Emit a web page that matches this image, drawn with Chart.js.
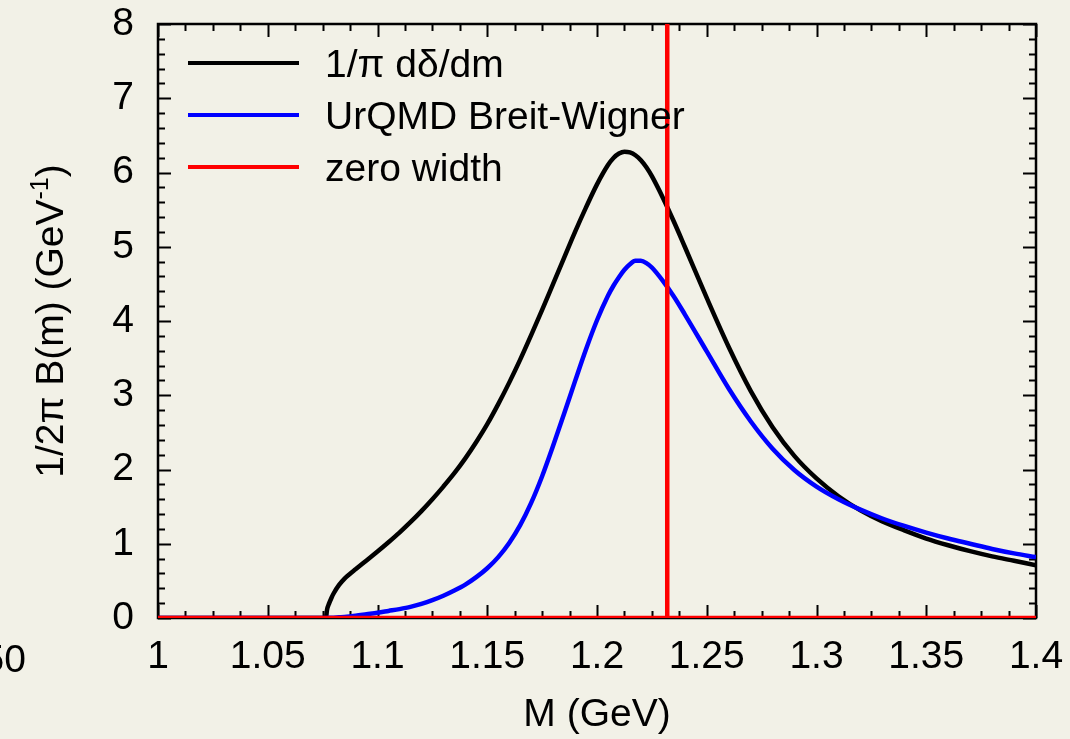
<!DOCTYPE html>
<html>
<head>
<meta charset="utf-8">
<script src="https://cdn.jsdelivr.net/npm/chart.js@4.4.1/dist/chart.umd.min.js"></script>
<style>
  html, body { margin: 0; padding: 0; background: #f2f1e7; }
  canvas { display: block; }
</style>
</head>
<body>
<canvas id="c" width="1070" height="739"></canvas>
<script>
// Delta(1232) spectral function: mass grid (GeV) and the two line shapes
const massGrid = [1.000, 1.0765, 1.077, 1.078, 1.079, 1.080, 1.0825, 1.085, 1.0875, 1.090,
                  1.095, 1.100, 1.105, 1.110, 1.115, 1.120, 1.125, 1.130, 1.135, 1.140,
                  1.145, 1.150, 1.155, 1.160, 1.165, 1.170, 1.175, 1.180, 1.185, 1.190,
                  1.195, 1.200, 1.205, 1.2075, 1.210, 1.2125, 1.215, 1.2175, 1.220, 1.2225,
                  1.225, 1.230, 1.235, 1.240, 1.250, 1.260, 1.270, 1.280, 1.290, 1.300,
                  1.310, 1.320, 1.330, 1.340, 1.350, 1.360, 1.370, 1.380, 1.390, 1.400];
const phaseShiftDerivative = [0, 0, 0.11, 0.20, 0.27, 0.33, 0.445, 0.53, 0.595, 0.655,
                  0.775, 0.895, 1.02, 1.15, 1.29, 1.44, 1.60, 1.77, 1.95, 2.15,
                  2.37, 2.61, 2.88, 3.17, 3.48, 3.81, 4.15, 4.50, 4.85, 5.20,
                  5.53, 5.84, 6.10, 6.195, 6.255, 6.28, 6.27, 6.232, 6.165, 6.07,
                  5.95, 5.66, 5.34, 5.00, 4.31, 3.65, 3.06, 2.57, 2.18, 1.88,
                  1.64, 1.45, 1.30, 1.18, 1.07, 0.98, 0.90, 0.83, 0.77, 0.71];
const breitWigner = [0, 0, 0.001, 0.002, 0.003, 0.005, 0.01, 0.015, 0.022, 0.03,
                  0.05, 0.07, 0.095, 0.12, 0.15, 0.19, 0.24, 0.30, 0.37, 0.45,
                  0.55, 0.67, 0.82, 1.01, 1.25, 1.55, 1.91, 2.32, 2.75, 3.19,
                  3.62, 4.01, 4.34, 4.475, 4.59, 4.69, 4.765, 4.81, 4.81, 4.78,
                  4.72, 4.54, 4.33, 4.09, 3.59, 3.09, 2.65, 2.28, 1.99, 1.77,
                  1.60, 1.46, 1.34, 1.24, 1.15, 1.07, 1.00, 0.93, 0.87, 0.82];
// zero-width limit: a spike at the pole mass
const zeroWidthMass  = [1.000, 1.232, 1.232, 1.232, 1.400];
const zeroWidthValue = [0, 0, 8, 0, 0];

const seriesLabels = ['1/\u03c0 d\u03b4/dm', 'UrQMD Breit-Wigner', 'zero width'];
const seriesColors = ['#000000', '#0000ff', '#ff0000'];

const xTicks = [1, 1.05, 1.1, 1.15, 1.2, 1.25, 1.3, 1.35, 1.4];
const xTickLabels = ['1', '1.05', '1.1', '1.15', '1.2', '1.25', '1.3', '1.35', '1.4'];
const yTicks = [0, 1, 2, 3, 4, 5, 6, 7, 8];
const yTickLabels = ['0', '1', '2', '3', '4', '5', '6', '7', '8'];
const xMinorStep = 0.0125;
const yMinorStep = 0.2;

const FONT = '"Liberation Sans", Arial, Helvetica, sans-serif';
const FS = 39;
const BG = '#f2f1e7';

const toPoints = (xs, ys) => xs.map((x, i) => ({ x, y: ys[i] }));

// background fill
const backgroundPlugin = {
  id: 'bg',
  beforeDraw(chart) {
    const { ctx, width, height } = chart;
    ctx.save();
    ctx.fillStyle = BG;
    ctx.fillRect(0, 0, width, height);
    ctx.restore();
  }
};

// plot frame with inward major/minor ticks on all four sides
const framePlugin = {
  id: 'frame',
  beforeDatasetsDraw(chart) {
    const { ctx, chartArea: a, scales: { x, y } } = chart;
    ctx.save();
    ctx.strokeStyle = '#000';
    ctx.lineWidth = 2;
    ctx.lineCap = 'butt';
    const majorLen = 13, minorLen = 7;
    ctx.beginPath();
    const nx = Math.round((x.max - x.min) / xMinorStep);
    for (let i = 0; i <= nx; i++) {
      const v = x.min + i * xMinorStep;
      const px = Math.round(x.getPixelForValue(v)) + 0.5;
      const len = (i % 4 === 0) ? majorLen : minorLen;
      ctx.moveTo(px, a.bottom); ctx.lineTo(px, a.bottom - len);
      ctx.moveTo(px, a.top); ctx.lineTo(px, a.top + len);
    }
    const ny = Math.round((y.max - y.min) / yMinorStep);
    for (let i = 0; i <= ny; i++) {
      const v = y.min + i * yMinorStep;
      const py = Math.round(y.getPixelForValue(v)) + 0.5;
      const len = (i % 5 === 0) ? majorLen : minorLen;
      ctx.moveTo(a.left, py); ctx.lineTo(a.left + len, py);
      ctx.moveTo(a.right, py); ctx.lineTo(a.right - len, py);
    }
    ctx.stroke();
    ctx.lineWidth = 2.5;
    ctx.strokeRect(a.left, a.top, a.right - a.left, a.bottom - a.top);
    ctx.restore();
  }
};

// legend inside the plot, top-left
const legendPlugin = {
  id: 'innerLegend',
  afterDatasetsDraw(chart) {
    const { ctx, chartArea: a } = chart;
    ctx.save();
    ctx.font = FS + 'px ' + FONT;
    ctx.textAlign = 'left';
    ctx.textBaseline = 'alphabetic';
    chart.data.datasets.forEach((ds, i) => {
      const yy = a.top + 39 + i * 52;
      ctx.strokeStyle = ds.borderColor;
      ctx.lineWidth = 4;
      ctx.beginPath();
      ctx.moveTo(a.left + 30, yy);
      ctx.lineTo(a.left + 141, yy);
      ctx.stroke();
      ctx.fillStyle = '#000';
      ctx.fillText(ds.label, a.left + 167, yy + 14);
    });
    ctx.restore();
  }
};

// vertical axis title with a superscript exponent, plus the neighbouring tick fragment
const textPlugin = {
  id: 'extraText',
  afterDraw(chart) {
    const { ctx, chartArea: a } = chart;
    ctx.save();
    ctx.fillStyle = '#000';
    const main = FS + 'px ' + FONT, sup = Math.round(FS * 0.65) + 'px ' + FONT;
    const part1 = '1/2\u03c0 B(m) (GeV', part2 = '-1', part3 = ')';
    ctx.font = main; const w1 = ctx.measureText(part1).width, w3 = ctx.measureText(part3).width;
    ctx.font = sup; const w2 = ctx.measureText(part2).width;
    const total = w1 + w2 + w3;
    const cx = 50, cy = (a.top + a.bottom) / 2;
    ctx.translate(cx, cy);
    ctx.rotate(-Math.PI / 2);
    ctx.textBaseline = 'alphabetic';
    ctx.textAlign = 'left';
    const base = 13;
    let xx = -total / 2;
    ctx.font = main; ctx.fillText(part1, xx, base); xx += w1;
    ctx.font = sup; ctx.fillText(part2, xx, base - 15); xx += w2;
    ctx.font = main; ctx.fillText(part3, xx, base);
    ctx.restore();

    ctx.save();
    ctx.fillStyle = '#000';
    ctx.font = FS + 'px ' + FONT;
    ctx.textAlign = 'right';
    ctx.textBaseline = 'alphabetic';
    ctx.fillText('50', 26, 672);
    ctx.restore();
  }
};

new Chart(document.getElementById('c'), {
  type: 'line',
  data: {
    datasets: [
      {
        label: seriesLabels[0],
        data: toPoints(massGrid, phaseShiftDerivative),
        borderColor: seriesColors[0],
        borderWidth: 4.5,
        cubicInterpolationMode: 'monotone',
        order: 2
      },
      {
        label: seriesLabels[1],
        data: toPoints(massGrid, breitWigner),
        borderColor: seriesColors[1],
        borderWidth: 4.5,
        cubicInterpolationMode: 'monotone',
        order: 1
      },
      {
        label: seriesLabels[2],
        data: toPoints(zeroWidthMass, zeroWidthValue),
        borderColor: seriesColors[2],
        borderWidth: 4.5,
        tension: 0,
        order: 0
      }
    ]
  },
  options: {
    responsive: false,
    animation: false,
    devicePixelRatio: 1,
    elements: { point: { radius: 0, hoverRadius: 0 }, line: { fill: false } },
    layout: { padding: { top: 24, right: 34, left: 0, bottom: 0 } },
    plugins: { legend: { display: false }, tooltip: { enabled: false } },
    events: [],
    scales: {
      x: {
        type: 'linear',
        min: 1, max: 1.4,
        afterBuildTicks: s => { s.ticks = xTicks.map(v => ({ value: v })); },
        afterFit: s => { s.height = 121; s.paddingLeft = 0; s.paddingRight = 0; },
        grid: { display: false, drawTicks: false },
        border: { display: false },
        ticks: {
          autoSkip: false, maxRotation: 0, padding: 16,
          color: '#000', font: { family: FONT, size: FS },
          callback: (v, i) => xTickLabels[i]
        },
        title: {
          display: true, text: 'M (GeV)', color: '#000',
          font: { family: FONT, size: FS }, padding: { top: 0, bottom: 0 }
        }
      },
      y: {
        type: 'linear',
        min: 0, max: 8,
        afterBuildTicks: s => { s.ticks = yTicks.map(v => ({ value: v })); },
        afterFit: s => { s.width = 158; s.paddingTop = 0; s.paddingBottom = 0; },
        grid: { display: false, drawTicks: false },
        border: { display: false },
        ticks: {
          autoSkip: false, padding: 24,
          color: '#000', font: { family: FONT, size: FS },
          callback: (v, i) => yTickLabels[i]
        }
      }
    }
  },
  plugins: [backgroundPlugin, framePlugin, legendPlugin, textPlugin]
});
</script>
</body>
</html>
